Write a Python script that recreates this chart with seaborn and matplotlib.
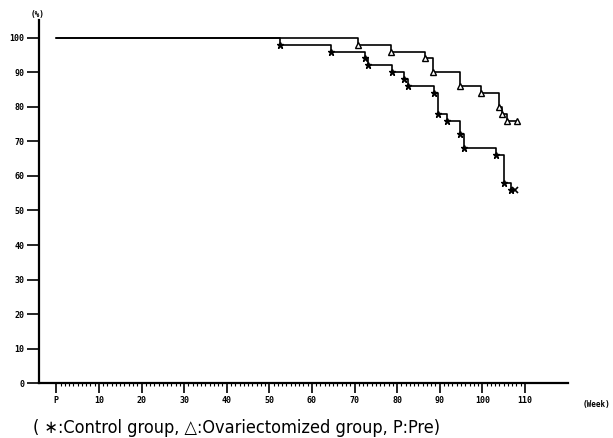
import pandas as pd
import matplotlib
matplotlib.use('Agg')
import matplotlib.pyplot as plt
import seaborn as sns

# survival data (week, % surviving)
ctrl_weeks = [0, 52.6, 64.5, 72.5, 73.1, 78.8, 81.7, 82.5, 88.7, 89.6, 91.6, 94.7, 95.8, 103.1, 105.0, 106.7, 107.7]
ctrl_surv = [100, 98, 96, 94, 92, 90, 88, 86, 84, 78, 76, 72, 68, 66, 58, 56, 56]
ovx_weeks = [0, 70.7, 78.6, 86.6, 88.5, 94.7, 99.6, 103.8, 104.7, 105.7, 108.1]
ovx_surv = [100, 98, 96, 94, 90, 86, 84, 80, 78, 76, 76]

x_ticks = list(range(0, 111, 10))
x_labels = ['P'] + [str(v) for v in x_ticks[1:]]
y_ticks = list(range(0, 101, 10))

ctrl = pd.DataFrame({'week': ctrl_weeks, 'surv': ctrl_surv})
ovx = pd.DataFrame({'week': ovx_weeks, 'surv': ovx_surv})

sns.set_style('white')
plt.rcParams['font.family'] = ['DejaVu Sans']
plt.rcParams['text.color'] = 'black'
plt.rcParams['xtick.color'] = 'black'
plt.rcParams['ytick.color'] = 'black'

fig = plt.figure(figsize=(6.13, 4.38), dpi=100)
ax = fig.add_axes([0.0641, 0.1249, 0.8617, 0.8285])

# step lines
sns.lineplot(data=ctrl, x='week', y='surv', drawstyle='steps-post', color='black',
             linewidth=1.2, estimator=None, sort=False, ax=ax)
sns.lineplot(data=ovx, x='week', y='surv', drawstyle='steps-post', color='black',
             linewidth=1.2, estimator=None, sort=False, ax=ax)

# event markers
ax.plot(ctrl['week'][1:-1], ctrl['surv'][1:-1], linestyle='none', marker='*',
        markersize=4.5, color='black')
ax.plot(ctrl['week'][-1:], ctrl['surv'][-1:], linestyle='none', marker='x',
        markersize=4, color='black', markeredgewidth=1.2)
ax.plot(ovx['week'][1:], ovx['surv'][1:], linestyle='none', marker='^',
        markersize=4, markerfacecolor='white', markeredgecolor='black', markeredgewidth=1)

ax.set_xlim(-4, 120)
ax.set_ylim(0, 105)
ax.set_xlabel('')
ax.set_ylabel('')

for s in ['top', 'right']:
    ax.spines[s].set_visible(False)
for s in ['left', 'bottom']:
    ax.spines[s].set_linewidth(1.6)
    ax.spines[s].set_color('black')

ax.set_xticks(x_ticks)
ax.set_xticklabels(x_labels, fontsize=6, fontweight='bold', family='DejaVu Sans Mono')
ax.set_xticks(range(0, 111), minor=True)
ax.tick_params(axis='x', which='major', direction='out', length=7, width=1.2, pad=2, bottom=True)
ax.tick_params(axis='x', which='minor', direction='out', length=2.5, width=0.8, bottom=True)

ax.set_yticks(y_ticks)
ax.set_yticklabels([str(v) for v in y_ticks], fontsize=6, fontweight='bold', family='DejaVu Sans Mono')
ax.tick_params(axis='y', which='major', direction='out', length=8.5, width=1.2, pad=2, left=True)

fig.text(38 / 613, 1 - 14 / 438, '(%)', fontsize=5.5, fontweight='bold',
         family='DejaVu Sans Mono', ha='center', va='center')
fig.text(583 / 613, 1 - 404 / 438, '(Week)', fontsize=5.5, fontweight='bold',
         family='DejaVu Sans Mono', ha='left', va='center')

fig.text(33 / 613, 1 - 433 / 438, '( \u2217:Control group, \u25b3:Ovariectomized group, P:Pre)',
         fontsize=13, family='DejaVu Sans', fontstretch='condensed',
         ha='left', va='baseline')

fig.savefig('out.png', dpi=100)
